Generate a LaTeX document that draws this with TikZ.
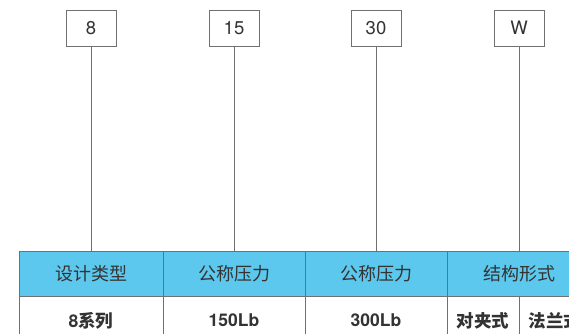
\documentclass[tikz,border=0pt]{standalone}
\usepackage{fontspec}
\setmainfont{TeX Gyre Heros}
\newfontfamily\cjk{Noto Sans CJK SC}
\definecolor{hdrblue}{HTML}{5CC8EE}
\definecolor{linegray}{HTML}{707070}
\definecolor{txtgray}{HTML}{333333}
\begin{document}
\begin{tikzpicture}[x=1pt,y=-1pt,
  codebox/.style={draw=linegray, line width=0.9pt, fill=white, minimum width=50pt, minimum height=36pt, inner sep=0pt, font=\fontsize{18.5}{18}\selectfont, text=txtgray},
  hdrcell/.style={draw=linegray, line width=0.9pt, fill=hdrblue, minimum height=45pt, inner sep=0pt, font=\cjk\fontsize{18}{18}\selectfont, text=txtgray},
  bodycell/.style={draw=linegray, line width=0.9pt, fill=white, minimum height=49pt, inner sep=0pt, font=\fontsize{17.5}{18}\selectfont, text=txtgray},
  lead/.style={draw=linegray, line width=0.9pt}]
\useasboundingbox (0,0) rectangle (569,333);
\clip (0,0) rectangle (569,333);
\fill[white] (0,0) rectangle (569,333);
% header row
\node[hdrcell, minimum width=144pt] (h1) at (91,273.5) {设计类型};
\node[hdrcell, minimum width=142pt] (h2) at (234,273.5) {公称压力};
\node[hdrcell, minimum width=142pt] (h3) at (376,273.5) {公称压力};
\node[hdrcell, minimum width=144pt] (h4) at (519,273.5) {结构形式};
% body row
\node[bodycell, minimum width=144pt] (b1) at (91,320.5) {\textbf{8}{\cjk\bfseries 系列}};
\node[bodycell, minimum width=142pt] (b2) at (234,320.5) {\textbf{150Lb}};
\node[bodycell, minimum width=142pt] (b3) at (376,320.5) {\textbf{300Lb}};
\node[bodycell, minimum width=72pt] (b4) at (483,320.5) {{\cjk\bfseries 对夹式}};
\node[bodycell, minimum width=72pt] (b5) at (555,320.5) {{\cjk\bfseries 法兰式}};
% code boxes
\node[codebox] (c1) at (91,28) {8};
\node[codebox] (c2) at (234,28) {15};
\node[codebox] (c3) at (376,28) {30};
\node[codebox] (c4) at (519,28) {W};
% leads
\draw[lead] (c1.south) -- (c1.south |- h1.north);
\draw[lead] (c2.south) -- (c2.south |- h2.north);
\draw[lead] (c3.south) -- (c3.south |- h3.north);
\draw[lead] (c4.south) -- (c4.south |- h4.north);
\end{tikzpicture}
\end{document}
